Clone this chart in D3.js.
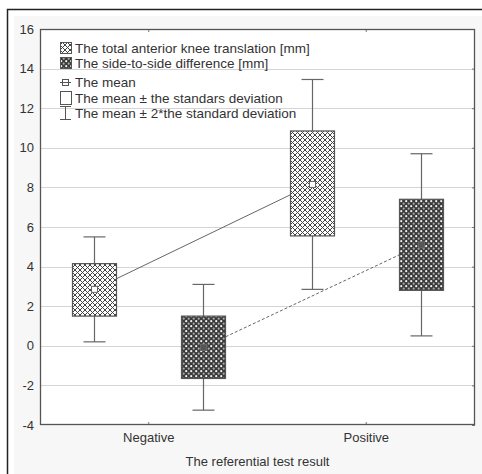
<!DOCTYPE html>
<html lang="en">
<head>
  <meta charset="UTF-8">
  <title>Knee translation box plot</title>
  <script src="https://d3js.org/d3.v7.min.js"></script>
  <style>
    body { margin: 0; background: #fff; font-family: "Liberation Sans", Arial, sans-serif; }
    svg { display: block; }
  </style>
</head>
<body>
<div id="chart"></div>
<script>

// data
const groups = ["Negative", "Positive"];
const seriesNames = ["The total anterior knee translation [mm]", "The side-to-side difference [mm]"];
const means   = [[2.85, 8.15], [-0.08, 5.1]];
const sdLow   = [[1.5, 5.55], [-1.65, 2.8]];
const sdHigh  = [[4.15, 10.85], [1.5, 7.4]];
const sd2Low  = [[0.2, 2.85], [-3.25, 0.5]];
const sd2High = [[5.5, 13.45], [3.1, 9.7]];
const yTicks = [-4, -2, 0, 2, 4, 6, 8, 10, 12, 14, 16];
const legendStats = ["The mean", "The mean \u00b1 the standars deviation", "The mean \u00b1 2*the standard deviation"];

const width = 482, height = 474;
const margin = { top: 29, right: 7, bottom: 49, left: 40 };

const svg = d3.select("#chart").append("svg")
  .attr("width", width)
  .attr("height", height);

// patterns
const defs = svg.append("defs");
const hatch = defs.append("pattern")
  .attr("id", "hatch")
  .attr("patternUnits", "userSpaceOnUse")
  .attr("width", 5).attr("height", 5);
hatch.append("rect").attr("width", 5).attr("height", 5).attr("fill", "#fff");
hatch.append("path")
  .attr("d", "M0,0L5,5M5,0L0,5M-1,4L1,6M4,-1L6,1M-1,1L1,-1M4,6L6,4")
  .attr("stroke", "#444").attr("stroke-width", 1);

const dots = defs.append("pattern")
  .attr("id", "dots")
  .attr("patternUnits", "userSpaceOnUse")
  .attr("width", 5).attr("height", 5);
dots.append("rect").attr("width", 5).attr("height", 5).attr("fill", "#3a3a3a");
dots.append("circle").attr("cx", 1.2).attr("cy", 1.2).attr("r", 1.1).attr("fill", "#f2f2f2");
dots.append("circle").attr("cx", 3.7).attr("cy", 3.7).attr("r", 1.1).attr("fill", "#aaa");

const fills = ["url(#hatch)", "url(#dots)"];

// outer panel
svg.append("rect")
  .attr("x", 14).attr("y", 16).attr("width", width - 14).attr("height", height - 16)
  .attr("fill", "#f7f7f7");
svg.append("path")
  .attr("d", `M7.5,${height}V9.5H${width}`)
  .attr("fill", "none").attr("stroke", "#222").attr("stroke-width", 1.5);

const x = d3.scaleBand()
  .domain(groups)
  .range([margin.left, width - margin.right]);

const x1 = d3.scaleBand()
  .domain([0, 1])
  .range([0, x.bandwidth()])
  .paddingInner(0)
  .paddingOuter(0);

const y = d3.scaleLinear()
  .domain([-4, 16])
  .range([height - margin.bottom, margin.top]);

const plotW = width - margin.right - margin.left;
const plotH = height - margin.bottom - margin.top;

svg.append("rect")
  .attr("x", margin.left).attr("y", margin.top)
  .attr("width", plotW).attr("height", plotH)
  .attr("fill", "#fff");

// grid
svg.append("g")
  .selectAll("line")
  .data(yTicks.slice(1, -1))
  .join("line")
  .attr("x1", margin.left).attr("x2", width - margin.right)
  .attr("y1", d => Math.round(y(d)) + 0.5).attr("y2", d => Math.round(y(d)) + 0.5)
  .attr("stroke", "#d4d4d4");

// axes
const yAxis = svg.append("g")
  .attr("transform", `translate(${margin.left},0)`)
  .call(d3.axisLeft(y).tickValues(yTicks).tickSize(0).tickPadding(6).tickFormat(d => String(d)));
yAxis.select(".domain").remove();
yAxis.selectAll("text")
  .attr("font-family", "Liberation Sans, Arial, sans-serif")
  .attr("font-size", 13).attr("fill", "#333");

const yAxisR = svg.append("g")
  .attr("transform", `translate(${width - margin.right},0)`)
  .call(d3.axisLeft(y).tickValues(yTicks).tickSize(3).tickFormat(""));
yAxisR.select(".domain").remove();
yAxisR.selectAll("line").attr("stroke", "#777");

const xAxis = svg.append("g")
  .attr("transform", `translate(0,${height - margin.bottom})`)
  .call(d3.axisBottom(x).tickSize(-3).tickPadding(8));
xAxis.select(".domain").remove();
xAxis.selectAll("line").attr("stroke", "#777");
xAxis.selectAll("text")
  .attr("font-family", "Liberation Sans, Arial, sans-serif")
  .attr("font-size", 13).attr("fill", "#333");

const xAxisT = svg.append("g")
  .attr("transform", `translate(0,${margin.top})`)
  .call(d3.axisTop(x).tickSize(-3).tickFormat(""));
xAxisT.select(".domain").remove();
xAxisT.selectAll("line").attr("stroke", "#777");

svg.append("text")
  .attr("x", margin.left + plotW / 2)
  .attr("y", height - 8)
  .attr("text-anchor", "middle")
  .attr("font-size", 13).attr("fill", "#333")
  .text("The referential test result");

const cx = (g, s) => x(groups[g]) + x1(s) + x1.bandwidth() / 2;
const boxW = 44;

// mean connecting lines
[0, 1].forEach(s => {
  svg.append("line")
    .attr("x1", cx(0, s)).attr("y1", y(means[s][0]))
    .attr("x2", cx(1, s)).attr("y2", y(means[s][1]))
    .attr("stroke", "#666").attr("stroke-width", 1)
    .attr("stroke-dasharray", s === 1 ? "3,2" : null);
});

// whiskers and boxes
[0, 1].forEach(s => {
  groups.forEach((gName, g) => {
    const c = Math.round(cx(g, s)) + 0.5;
    const gBox = svg.append("g");
    gBox.append("line")
      .attr("x1", c).attr("x2", c)
      .attr("y1", y(sd2Low[s][g])).attr("y2", y(sd2High[s][g]))
      .attr("stroke", "#666").attr("stroke-width", 1.2);
    [sd2Low[s][g], sd2High[s][g]].forEach(v => {
      gBox.append("line")
        .attr("x1", c - 11).attr("x2", c + 11)
        .attr("y1", y(v)).attr("y2", y(v))
        .attr("stroke", "#666").attr("stroke-width", 1.2);
    });
    gBox.append("rect")
      .attr("x", c - boxW / 2).attr("width", boxW)
      .attr("y", y(sdHigh[s][g]))
      .attr("height", y(sdLow[s][g]) - y(sdHigh[s][g]))
      .attr("fill", fills[s])
      .attr("stroke", "#555").attr("stroke-width", 1.2);
    gBox.append("rect")
      .attr("x", c - 3).attr("y", y(means[s][g]) - 3)
      .attr("width", 6).attr("height", 6)
      .attr("fill", s === 0 ? "#fff" : "#555")
      .attr("stroke", "#666").attr("stroke-width", 1);
  });
});

// legend
const legend = svg.append("g").attr("font-size", 13.5).attr("fill", "#333");
const legendX = 60, textX = 75;
const rows1 = [48, 63];
seriesNames.forEach((name, i) => {
  legend.append("rect")
    .attr("x", legendX + 0.5).attr("y", rows1[i] - 5.5)
    .attr("width", 11).attr("height", 11)
    .attr("fill", fills[i]).attr("stroke", "#555");
  legend.append("text")
    .attr("x", textX).attr("y", rows1[i]).attr("dy", "0.35em")
    .text(name);
});

const rows2 = [82, 98, 113];
legendStats.forEach((name, i) => {
  const ry = rows2[i];
  const ic = legend.append("g").attr("stroke", "#555").attr("fill", "none");
  if (i === 0) {
    ic.append("line").attr("x1", legendX).attr("x2", legendX + 11).attr("y1", ry + 0.5).attr("y2", ry + 0.5);
    ic.append("rect").attr("x", legendX + 2.5).attr("y", ry - 2.5).attr("width", 6).attr("height", 6);
  } else if (i === 1) {
    ic.append("rect").attr("x", legendX + 0.5).attr("y", ry - 6.5).attr("width", 11).attr("height", 13);
  } else {
    ic.append("path").attr("d", `M${legendX},${ry - 6.5}H${legendX + 11}M${legendX + 5.5},${ry - 6.5}V${ry + 6.5}M${legendX},${ry + 6.5}H${legendX + 11}`);
  }
  legend.append("text")
    .attr("x", textX).attr("y", ry).attr("dy", "0.35em")
    .text(name);
});

// plot frame
svg.append("rect")
  .attr("x", margin.left + 0.5).attr("y", margin.top + 0.5)
  .attr("width", plotW - 1).attr("height", plotH - 1)
  .attr("fill", "none").attr("stroke", "#555").attr("stroke-width", 1.3);

</script>
</body>
</html>
